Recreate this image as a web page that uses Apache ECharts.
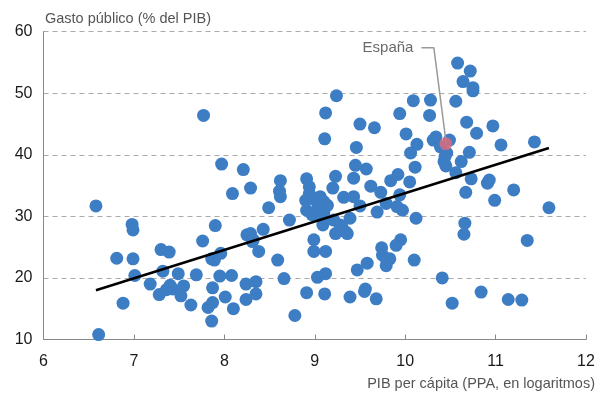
<!DOCTYPE html>
<html><head><meta charset="utf-8">
<script src="https://cdn.jsdelivr.net/npm/echarts@6/dist/echarts.min.js"></script>
<style>html,body{margin:0;padding:0;background:#fff}#c{width:598px;height:394px}</style>
</head><body><div id="c"></div>
<script>
const countryX = [6.58,6.61,6.81,6.88,6.98,6.99,6.99,7.01,7.18,7.28,7.30,7.32,7.39,7.36,7.40,7.43,7.49,7.52,7.55,7.63,7.69,7.76,7.82,7.86,7.87,7.87,7.86,7.90,7.96,7.89,7.95,8.01,8.08,8.10,8.09,8.24,8.24,8.25,8.29,8.31,8.35,8.35,8.38,8.43,8.49,8.59,8.66,8.72,8.78,8.61,8.62,8.29,7.77,7.97,8.21,8.62,8.32,
8.91,8.94,9.12,9.11,9.24,9.50,9.66,9.46,9.94,10.09,10.28,10.27,10.01,10.13,10.06,10.11,10.34,10.31,10.49,10.39,10.46,10.43,10.45,10.44,10.58,10.72,10.64,10.75,10.75,10.56,10.68,10.79,10.97,11.06,11.43,10.71,10.62,10.56,10.73,10.93,10.91,11.20,10.99,10.67,9.45,9.57,9.43,9.23,9.20,9.62,9.73,9.84,9.92,10.05,9.94,8.94,9.06,9.32,9.43,11.59,10.66,10.65,11.35,10.52,10.84,11.14,11.29,10.41,10.12,10.10,9.95,9.90,9.74,9.79,9.83,9.79,9.75,9.58,9.47,9.56,9.55,9.68,9.39,9.11,8.91,9.03,9.12,8.99,8.99,9.12,9.97,9.91,9.69,9.79,9.50,9.39,9.36,9.23,9.28,9.09,9.06,9.10,9.10,9.21,9.30,9.34,8.91,8.97,9.04,9.10,9.01,8.90,9.14];
const countryY = [31.7,10.8,23.2,15.9,28.7,27.8,23.1,20.4,19.0,17.3,24.6,21.1,24.2,18.1,18.8,18.2,20.7,17.1,18.7,15.6,20.5,26.0,15.2,13.0,18.4,16.0,23.1,28.5,24.0,22.9,20.3,16.9,20.4,15.0,33.7,19.0,16.5,27.0,27.2,25.9,19.4,17.4,24.3,27.9,31.4,22.9,19.9,29.4,13.9,34.1,33.2,34.6,46.4,38.5,37.6,35.8,26.2,
36.1,34.8,46.8,42.6,49.6,45.0,44.4,41.2,46.7,48.8,48.9,46.4,43.4,41.7,40.3,38.0,42.9,42.4,42.4,41.3,40.3,38.9,38.2,39.7,54.9,53.6,51.9,50.9,50.4,48.7,45.3,43.5,44.7,41.6,42.1,40.4,38.9,37.1,36.1,35.9,35.4,34.3,32.6,33.9,38.3,37.7,36.2,36.5,34.6,34.9,33.9,35.8,36.8,35.6,33.5,33.7,33.2,33.1,33.2,31.4,28.9,27.1,26.1,15.9,17.7,16.5,16.4,20.0,29.7,22.9,26.2,25.3,24.9,23.1,23.1,22.0,23.7,22.4,21.3,18.2,17.8,16.6,16.9,17.4,17.6,20.1,20.7,26.2,24.3,24.3,31.0,31.6,30.7,32.1,31.7,29.7,27.2,27.2,28.6,28.6,30.2,32.4,30.7,29.4,28.3,27.5,31.0,30.3,31.6,29.9,32.6,32.6,31.8];
const spainX = [10.45];
const spainY = [41.8];
const trendX = [6.58, 11.59];
const trendY = [18.0, 41.1];
const leaderX = [10.18, 10.317, 10.454];
const leaderY = [57.4, 57.4, 41.85];
const xTicks = [6,7,8,9,10,11,12];
const yTicks = [10,20,30,40,50,60];

const pts = countryX.map((x,i)=>[x,countryY[i]]);
const chart = echarts.init(document.getElementById('c'));
const font = 'Liberation Sans, Arial, Helvetica, sans-serif';
chart.setOption({
  animation:false,
  grid:{left:43.5,right:12,top:31.7,bottom:54.5},
  title:{text:'Gasto público (% del PIB)',left:40,top:6,textStyle:{fontFamily:font,fontSize:14.5,fontWeight:'normal',color:'#555'}},
  xAxis:{type:'value',min:xTicks[0],max:xTicks[xTicks.length-1],interval:1,
    name:'PIB per cápita (PPA, en logaritmos)',nameLocation:'end',nameGap:0,
    nameTextStyle:{fontFamily:font,fontSize:14.5,color:'#555',align:'right',verticalAlign:'top',padding:[37,-9,0,0]},
    axisLine:{lineStyle:{color:'#888',width:1}},
    axisTick:{show:true,inside:true,length:5,lineStyle:{color:'#888',width:1}},
    axisLabel:{fontFamily:font,fontSize:16,color:'#1a1a1a',margin:14},
    splitLine:{show:false}},
  yAxis:{type:'value',min:yTicks[0],max:yTicks[yTicks.length-1],interval:10,
    axisLine:{show:true,lineStyle:{color:'#888',width:1}},
    axisTick:{show:false},
    axisLabel:{fontFamily:font,fontSize:16,color:'#1a1a1a',margin:11},
    splitLine:{show:true,lineStyle:{color:'#aaa',type:[5,4],width:1}}},
  series:[
    {type:'scatter',data:pts,symbolSize:13,itemStyle:{color:'#3d7dc4',opacity:1},z:2},
    {type:'line',data:trendX.map((x,i)=>[x,trendY[i]]),symbol:'none',lineStyle:{color:'#000',width:2.5},z:3},
    {type:'line',data:leaderX.map((x,i)=>[x,leaderY[i]]),symbol:'none',lineStyle:{color:'#999',width:1.5},z:4,
      label:{show:false}},
    {type:'scatter',data:spainX.map((x,i)=>[x,spainY[i]]),symbolSize:13,itemStyle:{color:'#e16b78'},z:5},
    {type:'scatter',data:[[leaderX[0],leaderY[0]]],symbolSize:0,z:6,
      label:{show:true,position:'left',distance:8,formatter:'España',fontFamily:font,fontSize:15,color:'#444'}}
  ]
});
</script></body></html>
